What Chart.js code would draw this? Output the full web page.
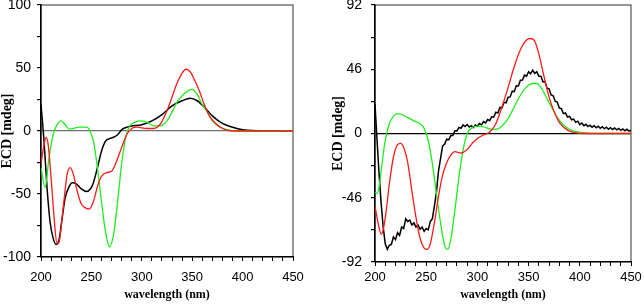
<!DOCTYPE html>
<html>
<head>
<meta charset="utf-8">
<script src="https://cdn.jsdelivr.net/npm/chart.js@4.4.1/dist/chart.umd.min.js"></script>
<style>
    html, body { margin: 0; padding: 0; background: #fff; }
    body { width: 644px; height: 304px; position: relative; overflow: hidden; }
    .panel { position: absolute; top: 0; height: 304px; }
    #leftPanel { left: 0; width: 304px; }
    #rightPanel { left: 324px; width: 320px; }
</style>
</head>
<body>
<div class="panel" id="leftPanel"><canvas id="leftChart"></canvas></div>
<div class="panel" id="rightPanel"><canvas id="rightChart"></canvas></div>
<script>
// --- data (wavelength in nm, ECD in mdeg) ---
const xTickLabels = [200, 250, 300, 350, 400, 450];
const leftYLabels = [-100, -50, 0, 50, 100];
const rightYLabels = [-92, -46, 0, 46, 92];

// left panel
const leftRedNm  = [200, 203, 205, 207, 210, 213, 216, 218, 222, 226, 229, 232, 236, 240, 244, 248, 252, 256, 260, 265, 270, 275, 280, 285, 290, 295, 305, 312, 318, 325, 330, 335, 340, 344, 348, 352, 357, 362, 367, 372, 380, 390, 400, 450];
const leftRedVal = [-26, -11, -5, -10, -37, -69, -90, -88, -61, -34, -29, -34, -48, -58, -61, -62, -56, -44, -36, -33, -32, -24, -13, -3, 2, 3, 2, 2, 5, 16, 27, 38, 46, 49, 47, 41, 32, 21, 12, 7, 2, 0, 0, 0];

const leftGreenNm  = [200, 204, 208, 212, 216, 220, 224, 228, 232, 238, 245, 248, 252, 256, 260, 264, 268, 272, 276, 280, 284, 288, 294, 298, 305, 312, 318, 325, 330, 335, 340, 346, 350, 355, 360, 365, 370, 378, 388, 400, 450];
const leftGreenVal = [-29, -45, -21, -3, 5, 8, 5, 1.5, 2, 3, 3, 1, -8, -29, -56, -80, -92, -82, -56, -26, -5, 4, 7, 8, 7, 4, 4, 8, 15, 23, 28, 32, 33, 29, 21, 15, 8, 3, 0.5, 0, 0];

const leftBlackNm  = [200, 203, 206, 209, 212, 215, 218, 221, 224, 228, 231, 235, 240, 245, 249, 252, 256, 260, 264, 268, 272, 276, 280, 285, 290, 300, 310, 320, 330, 340, 348, 355, 362, 370, 380, 390, 400, 410, 450];
const leftBlackVal = [21, -8, -45, -72, -85, -90, -86, -69, -53, -44, -41, -42, -46, -48, -46, -41, -29, -16, -8, -6, -5, -3, 1, 3, 4, 5, 8, 13, 20, 24, 26, 24, 19, 12, 6, 3, 1, 0.3, 0];

// right panel
const rightRedNm  = [200, 203, 206, 208, 211, 214, 218, 222, 225, 228, 232, 236, 240, 244, 248, 251, 254, 258, 262, 266, 270, 274, 278, 284, 290, 295, 300, 306, 312, 318, 324, 330, 336, 342, 348, 352, 356, 360, 365, 370, 375, 380, 388, 395, 405, 450];
const rightRedVal = [-52, -64, -72, -69, -55, -36, -17, -8, -7, -10, -21, -41, -60, -75, -82, -83, -79, -64, -45, -30, -21, -15.5, -13, -14, -11.5, -7, -3.6, -1, 1, 7, 19, 33, 48, 60, 67, 68, 66, 57, 41, 26, 15.5, 8, 2.4, 0.7, 0, 0];

const rightGreenNm  = [200, 202, 204, 207, 210, 214, 218, 222, 226, 232, 238, 244, 248, 252, 256, 260, 264, 268, 271, 274, 278, 282, 286, 290, 295, 300, 306, 312, 318, 324, 330, 336, 342, 348, 354, 358, 362, 368, 374, 380, 386, 394, 405, 420, 450];
const rightGreenVal = [-42, -43, -38, -21, -5, 7, 12.4, 14.3, 13.6, 11.5, 9, 7, 3.6, -5, -21.5, -43, -64, -80, -83, -76, -55, -31, -12, 0, 4.3, 5.3, 4.8, 3.3, 2.9, 5.3, 10.7, 19, 27.4, 33.4, 35.8, 35.8, 33, 25, 16.7, 9.5, 4.8, 1.7, 0.5, 0, 0];

// measured (noisy) trace, every 2 nm
const rightBlackNm = [200, 202, 204, 206, 208, 210, 212, 214, 216, 218, 220, 222, 224, 226, 228, 230, 232, 234, 236, 238, 240, 242, 244, 246, 248, 250,
    252, 254, 256, 258, 260, 262, 264, 266, 268, 270, 272, 274, 276, 278, 280, 282, 284, 286, 288, 290, 292, 294, 296, 298, 300,
    302, 304, 306, 308, 310, 312, 314, 316, 318, 320, 322, 324, 326, 328, 330, 332, 334, 336, 338, 340, 342, 344, 346, 348, 350,
    352, 354, 356, 358, 360, 362, 364, 366, 368, 370, 372, 374, 376, 378, 380, 382, 384, 386, 388, 390, 392, 394, 396, 398, 400,
    402, 404, 406, 408, 410, 412, 414, 416, 418, 420, 422, 424, 426, 428, 430, 432, 434, 436, 438, 440, 442, 444, 446, 448, 450];
const rightBlackVal = [21, -5, -29, -50, -67, -79, -83, -80, -79.5, -74, -76, -71, -73, -67, -68, -61, -63, -62, -65.5, -64, -67, -65.5, -68.5, -67, -70, -68,
    -69, -63, -61, -52, -42, -27, -18, -9, -7.5, -4, -4.5, -1.5, -1.5, 2, 1.8, 4.4, 3.8, 6.2, 5, 6.4, 4.6, 5.6, 4.2, 6.1, 5.2,
    7.1, 6.2, 8.5, 7.6, 10, 9.2, 12, 11.8, 15.2, 14.6, 18.6, 18.2, 22.3, 22, 26, 26.2, 30.3, 30, 34.2, 34, 38.2, 38.3, 41.8, 41, 44.2,
    42.7, 45.3, 43, 44.2, 41, 41, 37, 37.2, 32.5, 32, 27.6, 27, 23, 22.5, 18.2, 17.8, 14.2, 14.7, 11.8, 12.3, 9.8, 10.3, 8, 8.8, 6.4,
    7.5, 5.6, 6.6, 5, 6, 4.5, 5.6, 4.1, 5.2, 3.7, 4.9, 3.4, 4.5, 3.1, 4.2, 2.9, 3.9, 2.6, 3.6, 2.3, 3.3, 2, 3, 1.7, 2.3];

const RED = '#ff1a1a';
const GREEN = '#1fee1f';
const BLACK = '#000000';

function toPoints(nm, val) {
    return nm.map((x, i) => ({ x: x, y: val[i] }));
}

// gray frame around the plot; the black axis lines are drawn over it
const framePlugin = {
    id: 'frame',
    beforeDraw(chart) {
        const { ctx, chartArea: a } = chart;
        ctx.save();
        ctx.strokeStyle = '#555';
        ctx.lineWidth = 1.2;
        ctx.strokeRect(a.left, a.top, a.right - a.left, a.bottom - a.top);
        ctx.restore();
    }
};

function makeChart(id, cfg) {
    const canvas = document.getElementById(id);
    const W = canvas.parentElement.clientWidth;
    const H = 304;
    const a = cfg.area;
    const series = (nm, val, color, w, smooth) => ({
        data: toPoints(nm, val),
        borderColor: color,
        borderWidth: w,
        pointRadius: 0,
        fill: false,
        tension: 0,
        cubicInterpolationMode: smooth ? 'monotone' : 'default'
    });

    return new Chart(canvas.getContext('2d'), {
        type: 'line',
        data: {
            datasets: [
                series(cfg.red[0], cfg.red[1], RED, 1.3, true),
                series(cfg.green[0], cfg.green[1], GREEN, 1.3, true),
                series(cfg.black[0], cfg.black[1], BLACK, 1.5, cfg.blackSmooth)
            ]
        },
        options: {
            responsive: true,
            maintainAspectRatio: false,
            animation: false,
            layout: { padding: { left: 0, top: a.top, right: W - a.right, bottom: 0 } },
            plugins: { legend: { display: false }, tooltip: { enabled: false } },
            scales: {
                x: {
                    type: 'linear',
                    min: 200,
                    max: 450,
                    afterFit: (s) => { s.height = H - a.bottom; s.paddingLeft = 0; s.paddingRight = 0; },
                    border: { color: '#000', width: 1.2 },
                    grid: { drawOnChartArea: false, drawTicks: true, tickLength: 4, tickColor: '#000' },
                    ticks: {
                        stepSize: 10,
                        autoSkip: false,
                        maxRotation: 0,
                        padding: cfg.xTickPad,
                        color: '#000',
                        font: { family: 'Liberation Sans, Arial', size: 13 },
                        callback: (v) => xTickLabels.includes(v) ? String(v) : ''
                    },
                    title: {
                        display: true,
                        text: 'wavelength (nm)',
                        color: '#000',
                        padding: { top: 0, bottom: 2 },
                        font: { family: 'Liberation Serif, Times New Roman', size: 12, weight: 'bold' }
                    }
                },
                y: {
                    type: 'linear',
                    min: -cfg.yMax,
                    max: cfg.yMax,
                    afterFit: (s) => { s.width = a.left; s.paddingTop = 0; s.paddingBottom = 0; },
                    border: { color: '#000', width: 1.5 },
                    grid: {
                        drawOnChartArea: true,
                        drawTicks: true,
                        tickLength: 4,
                        tickColor: '#000',
                        lineWidth: 1.2,
                        color: (c) => (c.tick && c.tick.value === 0) ? cfg.zeroColor : 'rgba(0,0,0,0)'
                    },
                    ticks: {
                        stepSize: cfg.yStep,
                        autoSkip: false,
                        padding: cfg.yTickPad,
                        color: '#000',
                        font: { family: 'Liberation Sans, Arial', size: 14 },
                        callback: (v) => cfg.yLabels.includes(v) ? String(v) : ''
                    },
                    title: {
                        display: true,
                        text: 'ECD [mdeg]',
                        color: '#000',
                        padding: { top: cfg.yTitlePad, bottom: 0 },
                        font: { family: 'Liberation Serif, Times New Roman', size: 14, weight: 'bold' }
                    }
                }
            }
        },
        plugins: [framePlugin]
    });
}

makeChart('leftChart', {
    area: { left: 41, right: 293, top: 5, bottom: 257 },
    yMax: 100, yStep: 25, yLabels: leftYLabels,
    xTickPad: 9, yTickPad: 6, yTitlePad: -1,
    zeroColor: '#707070',
    blackSmooth: true,
    red: [leftRedNm, leftRedVal],
    green: [leftGreenNm, leftGreenVal],
    black: [leftBlackNm, leftBlackVal]
});

makeChart('rightChart', {
    area: { left: 51, right: 307, top: 5, bottom: 262 },
    yMax: 92, yStep: 23, yLabels: rightYLabels,
    xTickPad: 4, yTickPad: 9, yTitlePad: 6,
    zeroColor: '#000',
    blackSmooth: false,
    red: [rightRedNm, rightRedVal],
    green: [rightGreenNm, rightGreenVal],
    black: [rightBlackNm, rightBlackVal]
});
</script>
</body>
</html>
